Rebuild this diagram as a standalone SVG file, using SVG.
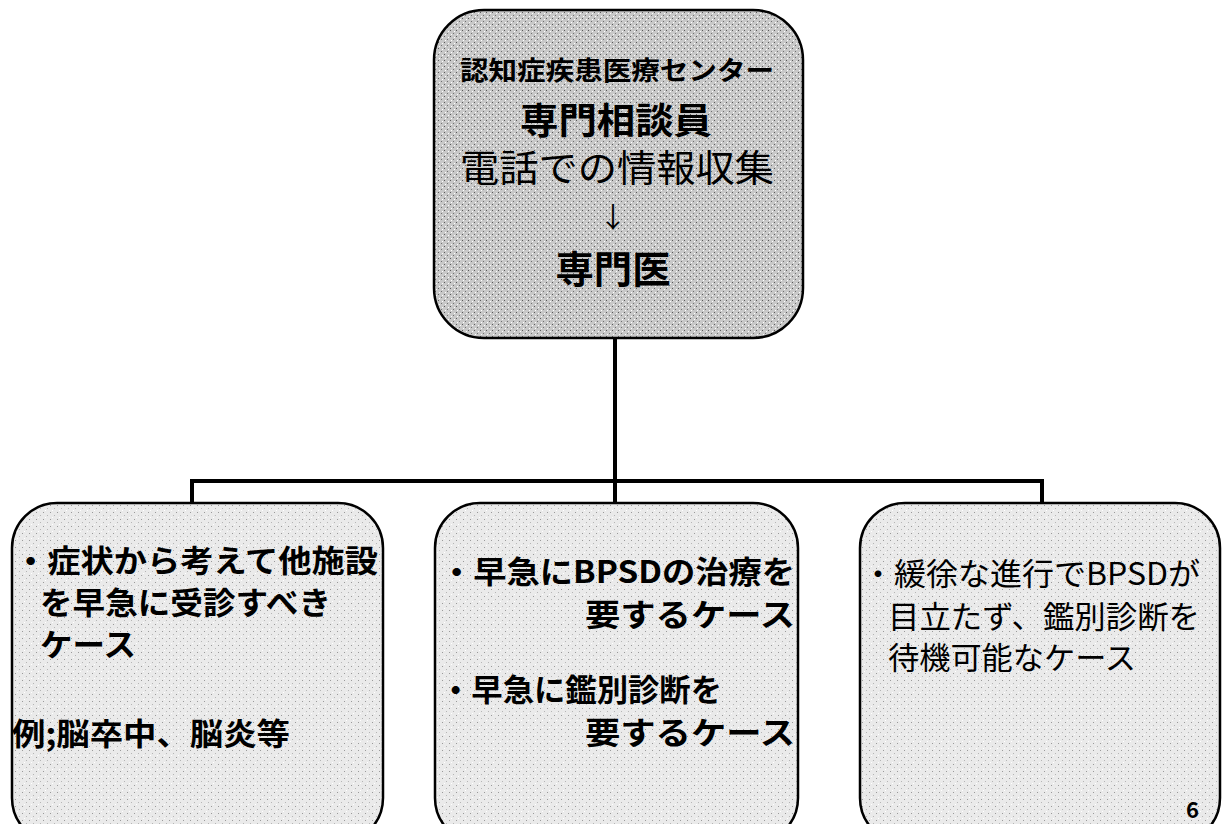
<svg xmlns="http://www.w3.org/2000/svg" width="1222" height="824" viewBox="0 0 1222 824">
<style>
.box{stroke:#000;stroke-width:2.5}
.con{stroke:#000;stroke-width:4;fill:none}
.jp{font-family:"Noto Sans CJK JP","Noto Sans",sans-serif;fill:#000}
.b{font-weight:bold}
</style>
<defs>
<pattern id="darkDots" width="6" height="6" patternUnits="userSpaceOnUse">
<rect width="6" height="6" fill="#c8c8c8"/>
<rect x="0" y="0" width="1" height="1" fill="#5a5a5a"/>
<rect x="3" y="3" width="1" height="1" fill="#707070"/>
<rect x="4" y="1" width="1" height="1" fill="#ffffff"/>
<rect x="1" y="4" width="1" height="1" fill="#ffffff"/>
</pattern>
<pattern id="lightDots" width="7" height="7" patternUnits="userSpaceOnUse">
<rect width="7" height="7" fill="#eaeaea"/>
<rect x="1" y="1" width="1" height="1" fill="#9a9a9a"/>
<rect x="5" y="4" width="1" height="1" fill="#b5b5b5"/>
<rect x="3" y="6" width="1" height="1" fill="#ffffff"/>
</pattern>
</defs>
<rect width="1222" height="824" fill="#ffffff"/>
<g id="connectors">
<line class="con" x1="615" y1="338" x2="615" y2="502"/>
<polyline class="con" points="192,503 192,481 1042,481 1042,503"/>
</g>
<g id="node-top">
<rect class="box" x="434" y="10" width="369" height="328" rx="50" ry="50" fill="url(#darkDots)"/>
<text class="jp b" x="617" y="80" font-size="26" text-anchor="middle" textLength="314" lengthAdjust="spacingAndGlyphs">認知症疾患医療センター</text>
<text class="jp b" x="616" y="134" font-size="36" text-anchor="middle" textLength="192" lengthAdjust="spacingAndGlyphs">専門相談員</text>
<text class="jp" x="617" y="182" font-size="37" text-anchor="middle" textLength="314" lengthAdjust="spacingAndGlyphs">電話での情報収集</text>
<text class="jp" x="613" y="228" font-size="28" text-anchor="middle">↓</text>
<text class="jp b" x="613" y="283" font-size="38" text-anchor="middle" textLength="115" lengthAdjust="spacingAndGlyphs">専門医</text>
</g>
<g id="node-left">
<rect class="box" x="12" y="503" width="371" height="340" rx="45" ry="45" fill="url(#lightDots)"/>
<text class="jp b" x="14" y="572" font-size="31" textLength="364" lengthAdjust="spacingAndGlyphs">・症状から考えて他施設</text>
<text class="jp b" x="40" y="614" font-size="31" textLength="291" lengthAdjust="spacingAndGlyphs">を早急に受診すべき</text>
<text class="jp b" x="40" y="656" font-size="31" textLength="96" lengthAdjust="spacingAndGlyphs">ケース</text>
<text class="jp b" x="12" y="745" font-size="31" textLength="278" lengthAdjust="spacingAndGlyphs">例;脳卒中、脳炎等</text>
</g>
<g id="node-middle">
<rect class="box" x="435" y="503" width="363" height="340" rx="45" ry="45" fill="url(#lightDots)"/>
<text class="jp b" x="440" y="583" font-size="31" textLength="355" lengthAdjust="spacingAndGlyphs">・早急にBPSDの治療を</text>
<text class="jp b" x="795" y="626" font-size="31" text-anchor="end" textLength="210" lengthAdjust="spacingAndGlyphs">要するケース</text>
<text class="jp b" x="440" y="701" font-size="31" textLength="282" lengthAdjust="spacingAndGlyphs">・早急に鑑別診断を</text>
<text class="jp b" x="795" y="744" font-size="31" text-anchor="end" textLength="210" lengthAdjust="spacingAndGlyphs">要するケース</text>
</g>
<g id="node-right">
<rect class="box" x="860" y="503" width="360" height="340" rx="45" ry="45" fill="url(#lightDots)"/>
<text class="jp" x="862" y="585" font-size="31" textLength="338" lengthAdjust="spacingAndGlyphs">・緩徐な進行でBPSDが</text>
<text class="jp" x="888" y="628" font-size="31" textLength="312" lengthAdjust="spacingAndGlyphs">目立たず、鑑別診断を</text>
<text class="jp" x="888" y="669" font-size="31" textLength="248" lengthAdjust="spacingAndGlyphs">待機可能なケース</text>
</g>
<text class="jp b" x="1186" y="818" font-size="22">6</text>
</svg>
